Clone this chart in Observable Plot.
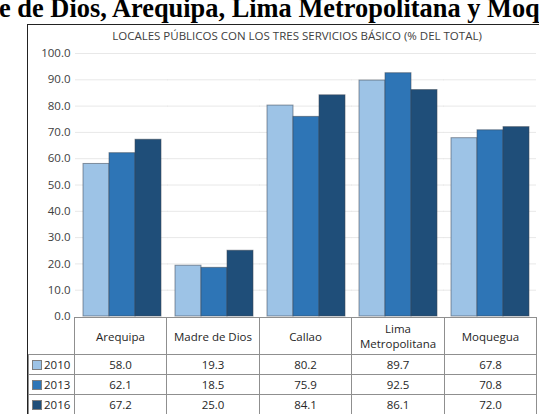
<!DOCTYPE html>
<html>
<head>
<meta charset="utf-8">
<script src="https://cdn.jsdelivr.net/npm/d3@7"></script>
<script src="https://cdn.jsdelivr.net/npm/@observablehq/plot@0.6"></script>
<style>
  html, body { margin: 0; padding: 0; background: #fff; }
  #root { position: relative; width: 539px; height: 414px; overflow: hidden; font-family: "Open Sans", sans-serif; }
  #head { position: absolute; top: -4px; left: -65px; white-space: nowrap; font-family: "Liberation Serif", "Times New Roman", serif; font-weight: bold; font-size: 26.4px; line-height: 25.5px; color: #000; }
  #frame { position: absolute; left: 27px; top: 24px; width: 700px; height: 600px; border-left: 1px solid #222; border-top: 1px solid #222; box-sizing: border-box; }
  #sub { position: absolute; left: 27px; width: 540px; top: 28px; text-align: center; font-size: 11.5px; line-height: 16px; color: #404040; white-space: nowrap; }
  #chart { position: absolute; left: 0; top: 0; }
  #chart svg { overflow: visible; }
  .cell { position: absolute; box-sizing: border-box; border: 1px solid #8f8f8f; display: flex; align-items: center; justify-content: center; text-align: center; font-size: 11.5px; color: #262626; line-height: 15px; white-space: pre; }
  .sw { display: inline-block; width: 8px; height: 8px; border: 1px solid #7f7f7f; margin-right: 2px; }
</style>
</head>
<body>
<div id="root">
  <div id="head">Madre de Dios, Arequipa, Lima Metropolitana y Moquegua</div>
  <div id="frame"></div>
  <div id="sub">LOCALES PÚBLICOS CON LOS TRES SERVICIOS BÁSICO (% DEL TOTAL)</div>
  <div id="chart"></div>
  <div id="tbl"></div>
</div>
<script>
const categories = ["Arequipa", "Madre de Dios", "Callao", "Lima Metropolitana", "Moquegua"];
const categoryLabels = ["Arequipa", "Madre de Dios", "Callao", "Lima\nMetropolitana", "Moquegua"];
const years = ["2010", "2013", "2016"];
const values2010 = [58.0, 19.3, 80.2, 89.7, 67.8];
const values2013 = [62.1, 18.5, 75.9, 92.5, 70.8];
const values2016 = [67.2, 25.0, 84.1, 86.1, 72.0];
const yTicks = [0, 10, 20, 30, 40, 50, 60, 70, 80, 90, 100];
const colors = ["#9dc3e6", "#2e75b6", "#1f4e79"];

const series = [values2010, values2013, values2016];
const data = [];
categories.forEach((c, i) => years.forEach((y, j) => data.push({cat: c, year: y, value: series[j][i]})));

const plot = Plot.plot({
  width: 539,
  height: 330,
  marginLeft: 74,
  marginRight: 3,
  marginTop: 53,
  marginBottom: 14,
  style: {fontFamily: "Open Sans, sans-serif", fontSize: "11.5px", color: "#404040", background: "transparent"},
  fx: {domain: categories, paddingInner: 0.145, paddingOuter: 0.0725, axis: null, label: null},
  x: {domain: years, padding: 0, axis: null},
  y: {domain: [0, 100], ticks: yTicks, tickFormat: d3.format(".1f"), tickSize: 0, tickPadding: 12, label: null},
  color: {domain: years, range: colors},
  marks: [
    Plot.ruleY(yTicks.slice(1), {stroke: "#e8e8e8", strokeWidth: 1, insetLeft: -7, insetRight: -7}),
    Plot.barY(data, {fx: "cat", x: "year", y: "value", fill: "year", stroke: "#3a4756", strokeOpacity: 0.55, strokeWidth: 1})
  ]
});
document.getElementById("chart").appendChild(plot);

// data table under the chart
const tbl = document.getElementById("tbl");
const x0 = 74, x1 = 536, legX = 28;
const colW = (x1 - x0) / categories.length;
const headTop = 317, headBot = 354, rowH = 20;
function cell(left, top, w, h) {
  const d = document.createElement("div");
  d.className = "cell";
  d.style.left = left + "px";
  d.style.top = top + "px";
  d.style.width = (w + 1) + "px";
  d.style.height = (h + 1) + "px";
  tbl.appendChild(d);
  return d;
}
categories.forEach((c, i) => {
  const l = Math.round(x0 + i * colW);
  const r = Math.round(x0 + (i + 1) * colW);
  cell(l, headTop, r - l, headBot - headTop).textContent = categoryLabels[i];
});
years.forEach((y, j) => {
  const t = headBot + j * rowH;
  const lc = cell(legX, t, x0 - legX, rowH);
  lc.style.justifyContent = "flex-start";
  lc.style.paddingLeft = "3px";
  lc.innerHTML = `<span class="sw" style="background:${colors[j]}"></span>${y}`;
  categories.forEach((c, i) => {
    const l = Math.round(x0 + i * colW);
    const r = Math.round(x0 + (i + 1) * colW);
    cell(l, t, r - l, rowH).textContent = d3.format(".1f")(series[j][i]);
  });
});
</script>
</body>
</html>
